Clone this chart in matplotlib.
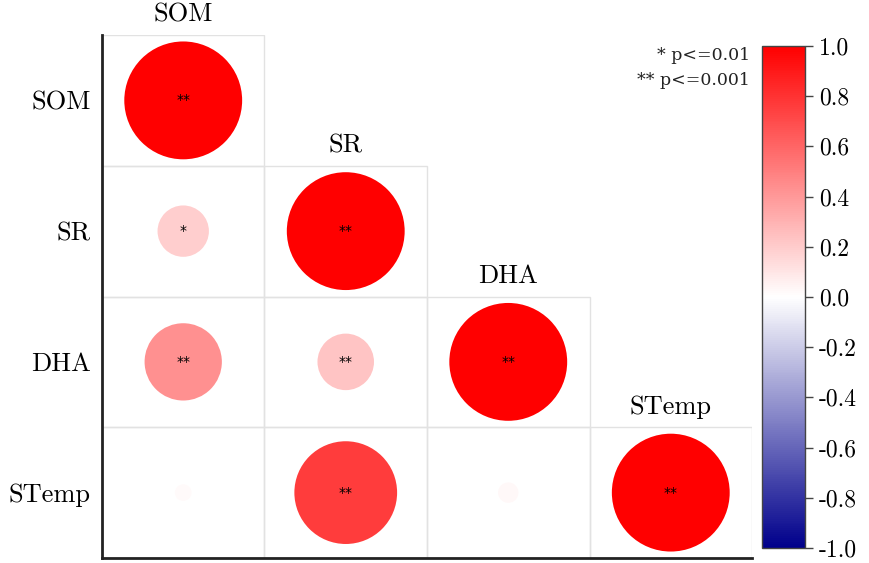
import matplotlib
matplotlib.use("Agg")
import matplotlib.pyplot as plt
import numpy as np
from matplotlib.colors import LinearSegmentedColormap, Normalize
from matplotlib.patches import Rectangle
from matplotlib.cm import ScalarMappable

plt.rcParams['font.family'] = ['cmr10', 'DejaVu Serif']
plt.rcParams['axes.unicode_minus'] = False
plt.rcParams['axes.formatter.use_mathtext'] = True

variables = ["SOM", "SR", "DHA", "STemp"]

# lower triangle of the correlation matrix, row by row
corr_rows = [
    [1.00],
    [0.19, 1.00],
    [0.43, 0.23, 1.00],
    [0.02, 0.76, 0.03, 1.00],
]
sig_rows = [
    ["**"],
    ["*", "**"],
    ["**", "**", "**"],
    ["", "**", "", "**"],
]

cmap = LinearSegmentedColormap.from_list("corr", ["#00008b", "#ffffff", "#ff0000"])
norm = Normalize(vmin=-1, vmax=1)

fig = plt.figure(figsize=(8.7, 5.63), dpi=100)
ax = fig.add_axes([0.1172, 0.0089, 0.7472, 0.9289])

n = len(variables)
s_max = 7200  # marker area for |r| = 1

for i, row in enumerate(corr_rows):
    for j, r in enumerate(row):
        ax.add_patch(Rectangle((j, i), 1, 1, facecolor="none",
                               edgecolor="#e2e2e2", lw=1, zorder=1))
        ax.scatter(j + 0.5, i + 0.5, s=abs(r) * s_max, color=cmap(norm(r)),
                   edgecolors="none", zorder=2)
        if sig_rows[i][j]:
            ax.text(j + 0.5, i + 0.5, sig_rows[i][j], ha="center", va="center",
                    fontsize=10, family="DejaVu Sans", zorder=3)
    # column label sits above the diagonal cell
    ax.annotate(variables[i], xy=(i + 0.5, i), xytext=(0, 6),
                textcoords="offset points", ha="center", va="bottom",
                fontsize=19, annotation_clip=False)

ax.set_xlim(0, n)
ax.set_ylim(n, 0)
ax.set_xticks([])
ax.set_yticks(np.arange(n) + 0.5)
ax.set_yticklabels(variables, fontsize=19)
ax.tick_params(axis="y", length=0, pad=8)
for side in ["top", "right"]:
    ax.spines[side].set_visible(False)
for side in ["left", "bottom"]:
    ax.spines[side].set_linewidth(2)
    ax.spines[side].set_color("#222222")

# significance key
fig.text(0.862, 0.902, "* p<=0.01", ha="right", va="center", fontsize=12.5,
         family="DejaVu Serif", color="#222222")
fig.text(0.862, 0.857, "** p<=0.001", ha="right", va="center", fontsize=12.5,
         family="DejaVu Serif", color="#222222")

cax = fig.add_axes([0.8759, 0.0266, 0.0494, 0.8917])
cb = fig.colorbar(ScalarMappable(norm=norm, cmap=cmap), cax=cax,
                  ticks=np.linspace(-1, 1, 11))
cb.ax.set_yticklabels([f"{t:.1f}" for t in np.linspace(-1, 1, 11)])
cb.outline.set_edgecolor("#444444")
cb.outline.set_linewidth(1)
cb.ax.tick_params(labelsize=17, length=6, width=1, color="#444444", pad=4)

fig.savefig("out.png", dpi=100)
